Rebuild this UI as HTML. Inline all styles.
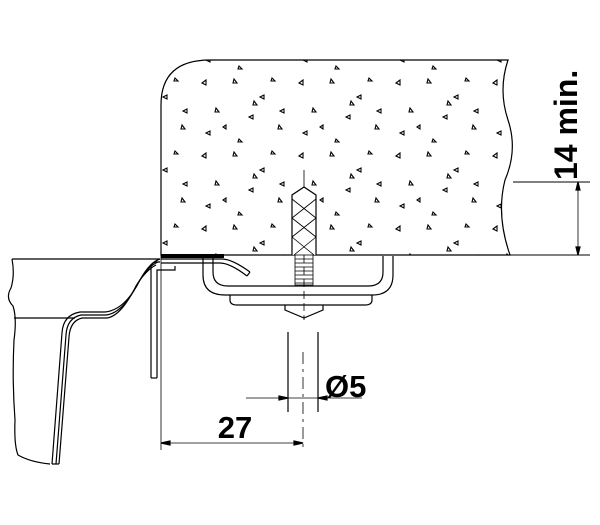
<!DOCTYPE html>
<html><head><meta charset="utf-8"><style>html,body{margin:0;padding:0;background:#fff}svg{display:block}</style></head><body>
<svg width="600" height="525" viewBox="0 0 600 525" xmlns="http://www.w3.org/2000/svg" font-family="Liberation Sans, sans-serif">
<defs>
<pattern id="sp" width="97" height="73" patternUnits="userSpaceOnUse">
<g fill="none" stroke="#000" stroke-width="1.1">
<path d="M8 10l4 -3v5z"/><path d="M40 6l3 4h-4z"/><path d="M70 22l-4 2 4 2z"/><path d="M22 35l3 4h-4z"/>
<path d="M55 44l4 -2v4z"/><path d="M85 52l3 4h-4z"/><path d="M12 60l4 -2v4z"/><path d="M45 66l3 3h-4z"/>
<path d="M78 5l3 3h-4z"/><path d="M32 52l-3 2 3 2z"/><path d="M60 28l3 4h-4z"/><path d="M90 36l-4 2 4 2z"/>
</g>
</pattern>
</defs>
<g fill="none" stroke="#000" stroke-width="1.2">
<path d="M161 255V105Q161 60 210 60H508Q498 90 508 120Q518 150 505 180Q496 215 510 255Z" fill="url(#sp)"/>
<line x1="510" y1="255" x2="590" y2="255" stroke-width="1"/>
<line x1="513" y1="182" x2="590" y2="182" stroke-width="1"/>
<line x1="578" y1="182" x2="578" y2="255" stroke-width="0.8"/>
<path d="M578 182l-2 8h4z M578 255l-2 -8h4z" fill="#000"/>
<line x1="304" y1="170" x2="304" y2="190" stroke-width="0.8"/>
<path d="M292 255V195l12 -8 12 8V255" fill="#fff"/>
<path d="M292 199l24 19M292 218l24 19M292 237l22 18M316 199l-24 19M316 218l-24 19M316 237l-22 18" stroke-width="0.8"/>
<rect x="295" y="255" width="18" height="30" fill="#fff" stroke-width="0.8"/>
<path d="M295 259h18M295 263h18M295 267h18M295 271h18M295 275h18M295 279h18M295 283h18" stroke-width="0.8"/>
<path d="M203 258V275Q203 295 225 295H372Q393 295 393 275V256"/>
<path d="M213 258V272Q213 286 228 286H368Q383 286 383 272V256"/>
<path d="M230 295V300Q230 305 237 305H365Q372 305 372 300V295"/>
<path d="M285 305V310l19 8 19 -8V305"/>
<line x1="304" y1="255" x2="304" y2="320" stroke-width="0.8" stroke-dasharray="8 4"/>
<line x1="288" y1="332" x2="288" y2="412"/>
<line x1="318" y1="332" x2="318" y2="412"/>
<line x1="303" y1="352" x2="303" y2="450" stroke-dasharray="12 5 3 5" stroke-width="0.8"/>
<line x1="246" y1="398" x2="362" y2="398" stroke-width="0.8"/>
<path d="M288 398l-9 -2v4z M318 398l9 -2v4z" fill="#000"/>
<text x="325" y="397" font-size="31" font-weight="bold" fill="#000" stroke="none">Ø5</text>
<line x1="161" y1="255" x2="161" y2="450" stroke-width="0.8"/>
<line x1="161" y1="443" x2="303" y2="443" stroke-width="0.8"/>
<path d="M161 443l9 -2v4z M303 443l-9 -2v4z" fill="#000"/>
<text x="235" y="438" font-size="31" font-weight="bold" fill="#000" stroke="none" text-anchor="middle">27</text>
<rect x="161" y="254" width="63" height="4" fill="#000" stroke="none"/>
<path d="M161 259H222Q232 259 250 272" />
<path d="M161 263H220Q230 263 247 276"/>
<path d="M247 276l3 -4"/>
<path d="M151 378V268Q151 262 157 262H160M157 378V270H175V266"/>
<path d="M151 378h6"/>
<path d="M12 259H160"/>
<path d="M12 259Q15 275 11 288Q5 298 13 306Q17 318 14 340Q12 380 15 420Q14 445 18 455Q30 462 50 464"/>
<line x1="14" y1="318" x2="75" y2="318"/>
<path d="M160 259Q150 262 140 280Q125 310 105 312H80Q63 315 62 333L52 464"/>
<path d="M158 262Q148 266 138 283Q123 313 106 315H81Q67 318 66 335L56 464"/>
<path d="M156 265Q146 270 136 286Q121 316 107 318H82Q70 321 69 337L59 464"/>
<path d="M52 464h7"/>
</g>
<text transform="translate(577,180) rotate(-90)" font-size="32" font-weight="bold" fill="#000">14 min.</text>
</svg>
</body></html>
